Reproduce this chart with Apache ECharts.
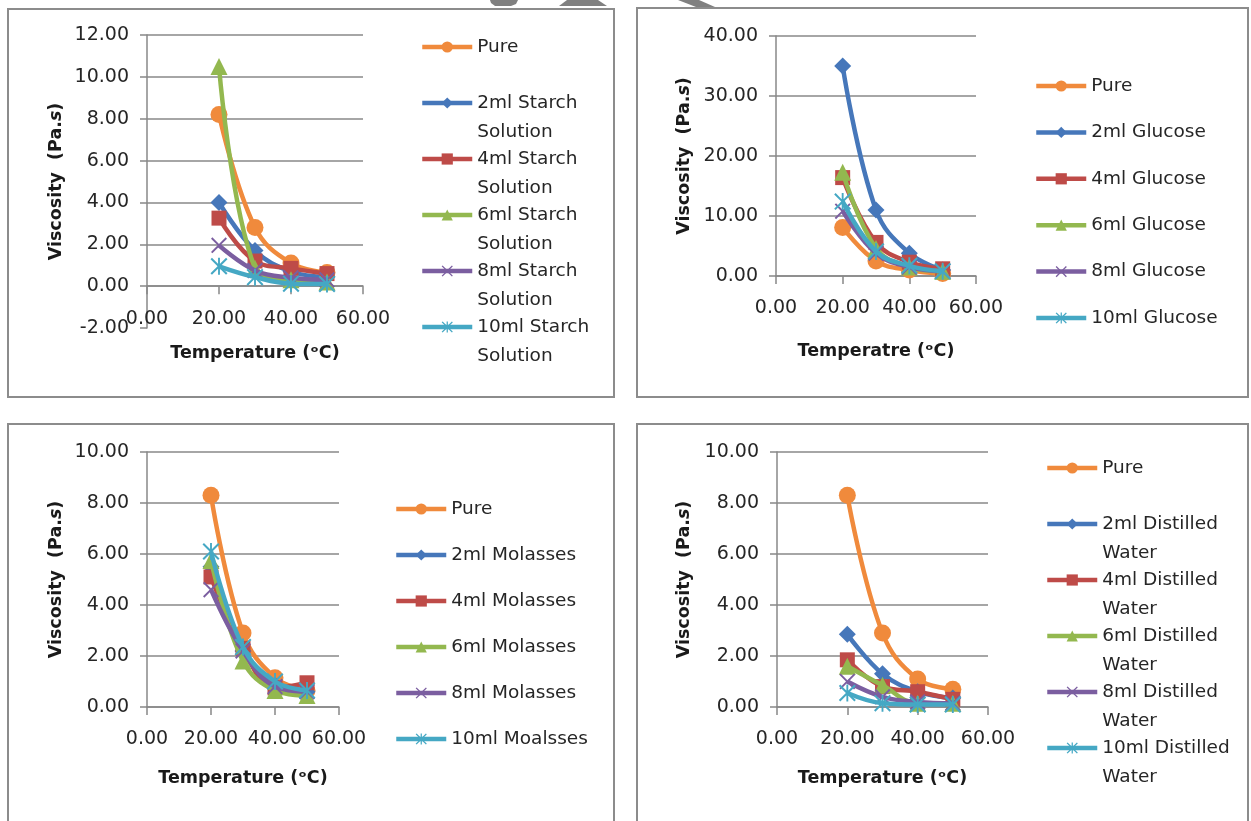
<!DOCTYPE html>
<html>
<head>
<meta charset="utf-8">
<title>Viscosity vs Temperature</title>
<script src="https://cdn.jsdelivr.net/npm/echarts@6.0.0/dist/echarts.min.js"></script>
<style>
  html, body { margin: 0; padding: 0; background: #fff; }
  #main { width: 1251px; height: 821px; }
</style>
</head>
<body>
<div id="main"></div>
<script>
// temperature points (oC), shared by all four charts
var temps = [20, 30, 40, 50];
var xTicks = { min: 0, max: 60, interval: 20 };

// starch solution chart
var starchNames = ['Pure', '2ml Starch Solution', '4ml Starch Solution', '6ml Starch Solution', '8ml Starch Solution', '10ml Starch Solution'];
var starchPure = [8.2, 2.8, 1.1, 0.65];
var starch2 = [4.0, 1.7, 0.7, 0.45];
var starch4 = [3.25, 1.2, 0.85, 0.6];
var starch6 = [10.5, 0.85, 0.3, 0.2];
var starch8 = [1.95, 0.75, 0.4, 0.3];
var starch10 = [0.95, 0.43, 0.12, 0.1];

// glucose chart
var glucoseNames = ['Pure', '2ml Glucose', '4ml Glucose', '6ml Glucose', '8ml Glucose', '10ml Glucose'];
var glucosePure = [8.1, 2.5, 1.0, 0.4];
var glucose2 = [35.0, 11.0, 3.8, 1.0];
var glucose4 = [16.4, 5.6, 2.3, 1.2];
var glucose6 = [17.3, 4.6, 1.5, 0.8];
var glucose8 = [10.8, 3.8, 1.5, 0.8];
var glucose10 = [12.4, 4.1, 1.7, 0.8];

// molasses chart
var molassesNames = ['Pure', '2ml Molasses', '4ml Molasses', '6ml Molasses', '8ml Molasses', '10ml Moalsses'];
var molassesPure = [8.3, 2.9, 1.15, 0.65];
var molasses2 = [5.5, 2.2, 0.85, 0.6];
var molasses4 = [5.1, 2.3, 0.75, 0.95];
var molasses6 = [5.75, 1.8, 0.65, 0.45];
var molasses8 = [4.6, 2.2, 0.8, 0.6];
var molasses10 = [6.1, 2.35, 1.0, 0.65];

// distilled water chart
var waterNames = ['Pure', '2ml Distilled Water', '4ml Distilled Water', '6ml Distilled Water', '8ml Distilled Water', '10ml Distilled Water'];
var waterPure = [8.3, 2.9, 1.1, 0.7];
var water2 = [2.85, 1.3, 0.6, 0.35];
var water4 = [1.85, 0.8, 0.6, 0.3];
var water6 = [1.6, 0.85, 0.15, 0.15];
var water8 = [1.0, 0.4, 0.2, 0.15];
var water10 = [0.55, 0.15, 0.1, 0.1];

var colors = ['#F08A3C', '#4677BA', '#BE4B48', '#93B84F', '#7B5EA0', '#45A8C4'];
var xMark = 'path://M0,1.7L1.7,0L10,8.3L18.3,0L20,1.7L11.7,10L20,18.3L18.3,20L10,11.7L1.7,20L0,18.3L8.3,10Z';
var starMark = xMark + 'M8.9,0L11.1,0L11.1,20L8.9,20Z';
var symbols = ['circle', 'diamond', 'rect', 'triangle', xMark, starMark];
var symbolSizes = [17, 17, 15, 17, 16, 17];

var font = 'DejaVu Sans';
var textColor = '#262626';
var axisColor = '#888888';

function buildSeries(idx, names, rows) {
    return names.map(function (name, i) {
        return {
            type: 'line',
            name: name,
            xAxisIndex: idx,
            yAxisIndex: idx,
            data: temps.map(function (t, j) { return [t, rows[i][j]]; }),
            smooth: 0.4,
            symbol: symbols[i],
            symbolSize: symbolSizes[i],
            showAllSymbol: true,
            lineStyle: { width: 4.5, color: colors[i] },
            itemStyle: { color: colors[i], borderWidth: 0 },
            emphasis: { disabled: true },
            z: 2 + i
        };
    });
}

function xAxisFor(idx, name, gap, margin) {
    return {
        type: 'value', gridIndex: idx,
        min: xTicks.min, max: xTicks.max, interval: xTicks.interval,
        name: name, nameLocation: 'middle', nameGap: gap,
        nameTextStyle: { fontFamily: font, fontWeight: 'bold', fontSize: 17.5, color: '#1a1a1a' },
        axisLine: { show: true, onZero: true, lineStyle: { color: axisColor, width: 1.5 } },
        axisTick: { show: true, length: 8, lineStyle: { color: axisColor, width: 1.5 } },
        axisLabel: { fontFamily: font, fontSize: 19, color: textColor, margin: margin,
            formatter: function (v) { return v.toFixed(2); } },
        splitLine: { show: false }
    };
}

function yAxisFor(idx, min, max, interval, gap) {
    return {
        type: 'value', gridIndex: idx,
        min: min, max: max, interval: interval,
        name: '{b|Viscosity  (Pa.}{i|s}{b|)}', nameLocation: 'middle', nameGap: gap,
        nameTextStyle: {
            rich: {
                b: { fontFamily: font, fontWeight: 'bold', fontSize: 17.5, color: '#1a1a1a' },
                i: { fontFamily: font, fontWeight: 'bold', fontStyle: 'italic', fontSize: 17.5, color: '#1a1a1a' }
            }
        },
        axisLine: { show: true, lineStyle: { color: axisColor, width: 1.5 } },
        axisTick: { show: true, length: 7, lineStyle: { color: axisColor, width: 1.5 } },
        axisLabel: { fontFamily: font, fontSize: 19, color: textColor, margin: 18,
            formatter: function (v) { return v.toFixed(2); } },
        splitLine: { show: true, showMinLine: min === 0, lineStyle: { color: axisColor, width: 1.5 } }
    };
}

// two-line legend entries, marker sits on the first line
function wrapName(name) {
    var k = name.lastIndexOf(' ');
    if (k < 0) return '\n' + name + '\n ';
    return '\n' + name.slice(0, k) + '\n' + name.slice(k + 1);
}

function legendFor(names, left, top, gap, lineHeight, wrap) {
    return {
        data: names, orient: 'vertical', left: left, top: top, padding: 0,
        itemWidth: 50, itemHeight: 14, itemGap: gap,
        selectedMode: false,
        lineStyle: { width: 4.5 },
        formatter: wrap ? wrapName : '{name}',
        textStyle: { fontFamily: font, fontSize: 18.5, color: textColor, lineHeight: lineHeight }
    };
}

var chart = echarts.init(document.getElementById('main'), null, { renderer: 'canvas' });

var option = {
    backgroundColor: '#ffffff',
    animation: false,
    grid: [
        { left: 147, top: 35, width: 216, height: 293, outerBoundsMode: 'none' },
        { left: 776, top: 36, width: 200, height: 240, outerBoundsMode: 'none' },
        { left: 147, top: 452, width: 192, height: 255, outerBoundsMode: 'none' },
        { left: 777, top: 452, width: 211, height: 255, outerBoundsMode: 'none' }
    ],
    xAxis: [
        // labels of the first chart sit at the zero line, not at the -2 edge
        xAxisFor(0, 'Temperature (ᵒC)', 16, -18),
        xAxisFor(1, 'Temperatre (ᵒC)', 66, 23),
        xAxisFor(2, 'Temperature (ᵒC)', 62, 23),
        xAxisFor(3, 'Temperature (ᵒC)', 62, 23)
    ],
    yAxis: [
        yAxisFor(0, -2, 12, 2, 82),
        yAxisFor(1, 0, 40, 10, 83),
        yAxisFor(2, 0, 10, 2, 82),
        yAxisFor(3, 0, 10, 2, 84)
    ],
    legend: [
        legendFor(starchNames, 420, 3.5, -31, 29, true),
        legendFor(glucoseNames, 1034, 75, 24.4, 22, false),
        legendFor(molassesNames, 394, 498, 24, 22, false),
        legendFor(waterNames, 1045, 424.5, -31, 29, true)
    ],
    graphic: [
        { type: 'rect', shape: { x: 8, y: 9, width: 606, height: 388 }, style: { fill: 'none', stroke: '#8c8c8c', lineWidth: 2 }, silent: true },
        { type: 'rect', shape: { x: 637, y: 8, width: 611, height: 389 }, style: { fill: 'none', stroke: '#8c8c8c', lineWidth: 2 }, silent: true },
        { type: 'rect', shape: { x: 8, y: 424, width: 606, height: 420 }, style: { fill: 'none', stroke: '#8c8c8c', lineWidth: 2 }, silent: true },
        { type: 'rect', shape: { x: 637, y: 424, width: 611, height: 420 }, style: { fill: 'none', stroke: '#8c8c8c', lineWidth: 2 }, silent: true },
        // grey scraps along the top edge
        { type: 'polygon', shape: { points: [[490, 0], [518, 0], [516, 4], [511, 6], [495, 6], [491, 3]] }, style: { fill: '#808080' }, silent: true },
        { type: 'polygon', shape: { points: [[567, 0], [598, 0], [607, 6], [559, 6]] }, style: { fill: '#808080' }, silent: true },
        { type: 'polygon', shape: { points: [[678, 0], [699, 0], [715, 7], [696, 7]] }, style: { fill: '#808080' }, silent: true }
    ],
    series: [].concat(
        buildSeries(0, starchNames, [starchPure, starch2, starch4, starch6, starch8, starch10]),
        buildSeries(1, glucoseNames, [glucosePure, glucose2, glucose4, glucose6, glucose8, glucose10]),
        buildSeries(2, molassesNames, [molassesPure, molasses2, molasses4, molasses6, molasses8, molasses10]),
        buildSeries(3, waterNames, [waterPure, water2, water4, water6, water8, water10])
    )
};

chart.setOption(option);
</script>
</body>
</html>
